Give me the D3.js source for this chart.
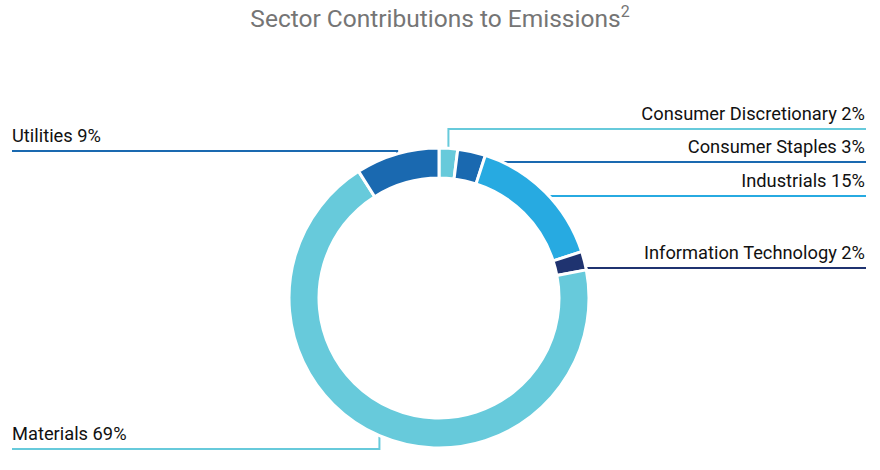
<!DOCTYPE html>
<html>
<head>
<meta charset="utf-8">
<script src="https://cdn.jsdelivr.net/npm/d3@7"></script>
<style>
  html, body { margin: 0; padding: 0; background: #fff; }
  svg { display: block; font-family: Roboto, "Noto Sans", sans-serif; }
</style>
</head>
<body>
<svg id="chart" width="880" height="470"></svg>
<script>
// ---- data ----
const categories = ["Consumer Discretionary", "Consumer Staples", "Industrials", "Information Technology", "Materials", "Utilities"];
const values = [2, 3, 15, 2, 69, 9];
const colors = ["#67cadb", "#1a69b0", "#27aae1", "#1f3370", "#67cadb", "#1a69b0"];
// ---- layout (label rows, side) ----
const labelSide = ["right", "right", "right", "right", "left", "left"];
const labelLineY = [129, 162, 196, 268, 449, 151];

const W = 880, H = 470;
const cx = 439, cy = 298, outerR = 150, innerR = 120;
const svg = d3.select("#chart");

// title
const title = svg.append("text")
  .attr("x", 440).attr("y", 27)
  .attr("text-anchor", "middle")
  .attr("fill", "#757575")
  .attr("font-size", 24.5);
title.append("tspan").text("Sector Contributions to Emissions");
title.append("tspan").attr("font-size", 16).attr("dy", -10).text("2");

const data = categories.map((c, i) => ({ name: c, value: values[i], color: colors[i], side: labelSide[i], ly: labelLineY[i] }));

const pie = d3.pie().sort(null).value(d => d.value);
const arcs = pie(data);
const arc = d3.arc().innerRadius(innerR).outerRadius(outerR);

const g = svg.append("g").attr("transform", `translate(${cx},${cy})`);

// leader lines (drawn under the ring)
arcs.forEach(a => {
  const mid = (a.startAngle + a.endAngle) / 2;
  const px = outerR * Math.sin(mid);
  const py = -outerR * Math.cos(mid);
  const ly = a.data.ly - cy;
  const ex = a.data.side === "right" ? 866 - cx : 12 - cx;
  g.append("path")
    .attr("d", `M${px},${py}L${px},${ly}L${ex},${ly}`)
    .attr("fill", "none")
    .attr("stroke", a.data.color)
    .attr("stroke-width", 2);
});

// ring
g.selectAll("path.slice")
  .data(arcs)
  .join("path")
  .attr("class", "slice")
  .attr("d", arc)
  .attr("fill", d => d.data.color)
  .attr("stroke", "#fff")
  .attr("stroke-width", 3);

// labels
svg.selectAll("text.lbl")
  .data(data)
  .join("text")
  .attr("class", "lbl")
  .attr("x", d => d.side === "right" ? 865 : 12)
  .attr("y", d => d.ly - 9)
  .attr("text-anchor", d => d.side === "right" ? "end" : "start")
  .attr("font-size", 18.3)
  .attr("fill", "#111")
  .text(d => `${d.name} ${d.value}%`);
</script>
</body>
</html>
